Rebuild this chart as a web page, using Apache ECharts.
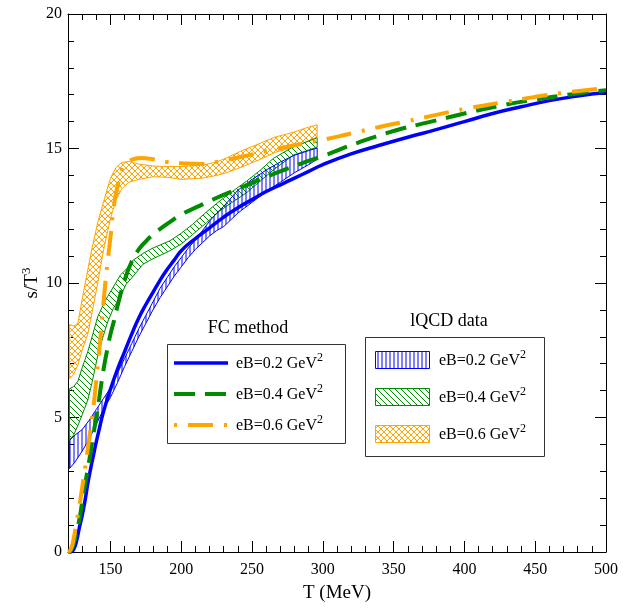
<!DOCTYPE html>
<html>
<head>
<meta charset="utf-8">
<script src="https://cdn.jsdelivr.net/npm/echarts@6/dist/echarts.min.js"></script>
<style>
  html, body { margin: 0; padding: 0; background: #fff; }
  #chart { width: 638px; height: 608px; }
</style>
</head>
<body>
<div id="chart"></div>
<script>
// Entropy density s/T^3 versus temperature: FC method curves and lQCD bands

const xMajorTicks = [150, 200, 250, 300, 350, 400, 450, 500];

// FC method curves: [T (MeV), s/T^3]
const fcEB02 = [
  [120, 0], [122, 0], [124, 0.1], [126, 0.4], [128, 0.9], [130, 1.35], [132, 1.9],
  [134, 2.55], [136, 3.1], [138, 3.6], [140, 4.1], [142, 4.55], [145, 5.2], [150, 6.05],
  [155, 6.8], [160, 7.45], [165, 8.1], [170, 8.7], [175, 9.2], [180, 9.65], [185, 10.1],
  [190, 10.5], [195, 10.85], [200, 11.2], [210, 11.65], [220, 12.05], [230, 12.45],
  [240, 12.8], [250, 13.1], [260, 13.4], [270, 13.65], [280, 13.9], [290, 14.15],
  [300, 14.4], [320, 14.8], [340, 15.12], [360, 15.42], [380, 15.7], [400, 16.0],
  [420, 16.3], [440, 16.55], [460, 16.78], [480, 16.95], [500, 17.08]
];
const fcEB04 = [
  [120, 0], [122, 0.05], [124, 0.3], [126, 0.75], [128, 1.2], [130, 1.85], [132, 2.5],
  [134, 3.1], [136, 3.72], [138, 4.4], [140, 5.0], [142, 5.7], [145, 6.75], [148, 7.6],
  [150, 8.1], [152.5, 8.6], [155, 9.15], [160, 10.1], [165, 10.8], [170, 11.25],
  [175, 11.55], [180, 11.8], [188, 12.12], [195, 12.38], [200, 12.55], [212, 12.85],
  [220, 13.05], [240, 13.5], [265, 14.05], [285, 14.45], [300, 14.72], [325, 15.22],
  [350, 15.65], [375, 15.98], [400, 16.3], [425, 16.59], [450, 16.82], [475, 17.01],
  [500, 17.17]
];
const fcEB06 = [
  [120, 0], [122, 0.1], [124, 0.5], [126, 1.1], [128, 1.7], [130, 2.4], [132, 3.1],
  [134, 3.85], [136, 4.6], [138, 5.4], [140, 6.4], [142, 7.45], [144, 8.6], [146, 9.8],
  [148, 10.8], [150, 11.7], [152.5, 12.9], [155, 13.6], [158, 14.2], [162, 14.48],
  [166, 14.6], [172, 14.65], [180, 14.6], [190, 14.5], [200, 14.45], [215, 14.42],
  [225, 14.5], [237, 14.63], [250, 14.78], [260, 14.9], [280, 15.12], [300, 15.32],
  [320, 15.56], [340, 15.8], [360, 16.02], [380, 16.25], [400, 16.47], [425, 16.7],
  [450, 16.92], [475, 17.1], [500, 17.25]
];

// lQCD bands: [T (MeV), lower, upper]
const lqcdEB02 = [
  [121, 3.1, 4.15], [125, 3.35, 4.35], [130, 3.75, 4.55], [135, 4.2, 4.9],
  [140, 4.75, 5.3], [145, 5.3, 5.7], [150, 5.75, 6.1], [155, 6.3, 6.65],
  [160, 6.9, 7.2], [165, 7.45, 7.75], [170, 8.0, 8.3], [175, 8.5, 8.8],
  [180, 9.0, 9.3], [185, 9.45, 9.8], [190, 9.85, 10.2], [195, 10.25, 10.6],
  [200, 10.6, 10.95], [205, 10.95, 11.3], [210, 11.25, 11.6], [215, 11.5, 11.95],
  [220, 11.75, 12.3], [225, 11.95, 12.6], [230, 12.1, 12.85], [240, 12.6, 13.45],
  [250, 13.0, 13.85], [260, 13.4, 14.2], [270, 13.75, 14.5], [280, 14.1, 14.75],
  [290, 14.4, 14.92], [296, 14.6, 15.02]
];
const lqcdEB04 = [
  [121, 4.17, 6.07], [124, 4.35, 6.15], [127, 4.7, 6.35], [130, 5.1, 6.85],
  [134, 5.65, 7.45], [137, 6.3, 8.0], [141, 7.3, 8.75], [145, 8.05, 9.2],
  [148, 8.55, 9.5], [152, 9.05, 9.85], [157, 9.5, 10.3], [161, 9.95, 10.5],
  [166, 10.25, 10.85], [173, 10.7, 11.1], [180, 10.9, 11.3], [192, 11.2, 11.57],
  [200, 11.45, 11.85], [208, 11.8, 12.18], [218, 12.25, 12.65], [227, 12.67, 13.04],
  [236, 13.0, 13.4], [246, 13.35, 13.78], [256, 13.8, 14.2], [265, 14.2, 14.63],
  [279, 14.75, 15.06], [296, 15.05, 15.4]
];
const lqcdEB06 = [
  [121, 6.43, 8.46], [124, 6.6, 8.4], [127, 6.95, 8.5], [130, 7.5, 9.4],
  [134, 8.1, 10.5], [137, 8.9, 11.3], [141, 10.0, 12.25], [145, 11.2, 13.0],
  [150, 12.4, 13.9], [154, 13.1, 14.3], [158, 13.5, 14.48], [163, 13.75, 14.52],
  [170, 13.85, 14.42], [180, 13.95, 14.35], [190, 13.93, 14.33], [200, 13.85, 14.33],
  [215, 13.9, 14.38], [225, 14.0, 14.5], [232, 14.1, 14.65], [242, 14.3, 14.9],
  [256, 14.6, 15.2], [266, 14.85, 15.42], [279, 15.05, 15.6], [289, 15.25, 15.78],
  [296, 15.43, 15.88]
];

const legendLabels = ['eB=0.2 GeV', 'eB=0.4 GeV', 'eB=0.6 GeV'];

const BLUE = '#0000ff';
const GREEN = '#008b00';
const ORANGE = '#ffa500';
const SERIF = '"Liberation Serif", "Times New Roman", "DejaVu Serif", serif';

// Hatch fill tiles
function hatch(color, size, kind) {
  const c = document.createElement('canvas');
  c.width = size; c.height = size;
  const g = c.getContext('2d');
  g.strokeStyle = color;
  g.lineWidth = 1;
  g.beginPath();
  if (kind === 'vertical') {
    g.moveTo(size / 2, 0); g.lineTo(size / 2, size);
  }
  if (kind === 'back' || kind === 'cross') {
    for (let k = -1; k <= 1; k++) { g.moveTo(k * size, 0); g.lineTo(k * size + size, size); }
  }
  if (kind === 'fwd' || kind === 'cross') {
    for (let k = -1; k <= 1; k++) { g.moveTo(k * size, size); g.lineTo(k * size + size, 0); }
  }
  g.stroke();
  return { image: c, repeat: 'repeat' };
}
const patBlue = hatch(BLUE, 4, 'vertical');
const patGreen = hatch(GREEN, 6, 'back');
const patOrange = hatch(ORANGE, 6, 'cross');

function bandSeries(name, band, color, pattern) {
  return {
    type: 'custom',
    name: name,
    xAxisIndex: 0,
    yAxisIndex: 0,
    clip: true,
    silent: true,
    z: 1,
    data: [[band[0][0], band[0][1]]],
    renderItem: function (params, api) {
      const upper = band.map(p => api.coord([p[0], p[2]]));
      const lower = band.slice().reverse().map(p => api.coord([p[0], p[1]]));
      return {
        type: 'polygon',
        shape: { points: upper.concat(lower) },
        style: { fill: pattern, stroke: color, lineWidth: 1 }
      };
    }
  };
}

function lineSeries(name, data, color, width, dash) {
  return {
    type: 'line',
    name: name,
    xAxisIndex: 0,
    yAxisIndex: 0,
    data: data,
    showSymbol: false,
    smooth: 0.5,
    clip: true,
    z: 3,
    lineStyle: { color: color, width: width, type: dash || 'solid', cap: 'butt' }
  };
}

const axisCommon = {
  type: 'value',
  min: 120,
  max: 500,
  splitLine: { show: false }
};
const tickStyle = { color: '#000', width: 1 };

const supRich = {
  sup: { fontSize: 13, fontFamily: SERIF, color: '#000', verticalAlign: 'top', lineHeight: 12 }
};

const chart = echarts.init(document.getElementById('chart'), null, { renderer: 'canvas' });

function legendText(x, y, label) {
  return {
    type: 'text',
    x: x,
    y: y,
    z: 11,
    style: {
      text: label + '{sup|2}',
      fontSize: 16,
      fontFamily: SERIF,
      fill: '#000',
      lineHeight: 24,
      verticalAlign: 'middle',
      rich: { sup: { fontSize: 12, fontFamily: SERIF, fill: '#000', verticalAlign: 'top', lineHeight: 10 } }
    }
  };
}

chart.setOption({
  animation: false,
  backgroundColor: '#fff',
  grid: { left: 68, right: 32, top: 14, bottom: 50 },
  xAxis: [
    Object.assign({}, axisCommon, {
      position: 'bottom',
      interval: 10,
      axisLine: { show: true, lineStyle: { color: '#000', width: 1 } },
      axisTick: { show: true, inside: true, length: 6, lineStyle: tickStyle },
      axisLabel: { show: false }
    }),
    Object.assign({}, axisCommon, {
      position: 'bottom',
      axisLine: { show: false },
      axisTick: { show: true, inside: true, length: 11, customValues: xMajorTicks, lineStyle: tickStyle },
      axisLabel: { show: true, customValues: xMajorTicks, fontSize: 16, fontFamily: SERIF, color: '#000', margin: 10 },
      name: 'T (MeV)',
      nameLocation: 'middle',
      nameGap: 32,
      nameMoveOverlap: false,
      nameTextStyle: { fontSize: 19, fontFamily: SERIF, color: '#000' }
    }),
    Object.assign({}, axisCommon, {
      position: 'top',
      interval: 10,
      axisLine: { show: true, lineStyle: { color: '#000', width: 1 } },
      axisTick: { show: true, inside: true, length: 6, lineStyle: tickStyle },
      axisLabel: { show: false }
    }),
    Object.assign({}, axisCommon, {
      position: 'top',
      axisLine: { show: false },
      axisTick: { show: true, inside: true, length: 11, customValues: xMajorTicks, lineStyle: tickStyle },
      axisLabel: { show: false }
    })
  ],
  yAxis: [
    {
      type: 'value', min: 0, max: 20, interval: 5, position: 'left',
      splitLine: { show: false },
      axisLine: { show: true, lineStyle: { color: '#000', width: 1 } },
      axisTick: { show: true, inside: true, length: 11, lineStyle: tickStyle },
      minorTick: { show: true, splitNumber: 5, length: 6, lineStyle: tickStyle },
      axisLabel: { fontSize: 16, fontFamily: SERIF, color: '#000', margin: 6 },
      name: 's/T{sup|3}',
      nameLocation: 'middle',
      nameGap: 24,
      nameMoveOverlap: false,
      nameTextStyle: { fontSize: 19, fontFamily: SERIF, color: '#000', lineHeight: 24, rich: supRich }
    },
    {
      type: 'value', min: 0, max: 20, interval: 5, position: 'right',
      splitLine: { show: false },
      axisLine: { show: true, lineStyle: { color: '#000', width: 1 } },
      axisTick: { show: true, inside: true, length: 11, lineStyle: tickStyle },
      minorTick: { show: true, splitNumber: 5, length: 6, lineStyle: tickStyle },
      axisLabel: { show: false }
    }
  ],
  series: [
    bandSeries('lQCD eB=0.6', lqcdEB06, ORANGE, patOrange),
    bandSeries('lQCD eB=0.4', lqcdEB04, GREEN, patGreen),
    bandSeries('lQCD eB=0.2', lqcdEB02, BLUE, patBlue),
    lineSeries('FC eB=0.2', fcEB02, BLUE, 3.5, 'solid'),
    lineSeries('FC eB=0.4', fcEB04, GREEN, 4, [21, 10]),
    lineSeries('FC eB=0.6', fcEB06, ORANGE, 4, [25, 11, 3, 11])
  ],
  graphic: [
    // FC method legend
    { type: 'text', x: 248, y: 328, style: { text: 'FC method', fontSize: 18, fontFamily: SERIF, fill: '#000', align: 'center', verticalAlign: 'middle' } },
    { type: 'rect', shape: { x: 167.5, y: 344.5, width: 178, height: 99 }, style: { fill: '#fff', stroke: '#333', lineWidth: 1 }, z: 10 },
    { type: 'line', shape: { x1: 174, y1: 363, x2: 228, y2: 363 }, style: { stroke: BLUE, lineWidth: 3.5 }, z: 11 },
    { type: 'line', shape: { x1: 174, y1: 394, x2: 228, y2: 394 }, style: { stroke: GREEN, lineWidth: 4, lineDash: [21, 10] }, z: 11 },
    { type: 'line', shape: { x1: 174, y1: 425, x2: 228, y2: 425 }, style: { stroke: ORANGE, lineWidth: 4, lineDash: [3, 11, 25, 11] }, z: 11 },
    legendText(236, 364, legendLabels[0]),
    legendText(236, 395, legendLabels[1]),
    legendText(236, 426, legendLabels[2]),
    // lQCD data legend
    { type: 'text', x: 449, y: 321, style: { text: 'lQCD data', fontSize: 18, fontFamily: SERIF, fill: '#000', align: 'center', verticalAlign: 'middle' } },
    { type: 'rect', shape: { x: 365.5, y: 337.5, width: 179, height: 119 }, style: { fill: '#fff', stroke: '#333', lineWidth: 1 }, z: 10 },
    { type: 'rect', shape: { x: 375.5, y: 351.5, width: 54, height: 17 }, style: { fill: patBlue, stroke: BLUE, lineWidth: 1 }, z: 11 },
    { type: 'rect', shape: { x: 375.5, y: 388.5, width: 54, height: 17 }, style: { fill: patGreen, stroke: GREEN, lineWidth: 1 }, z: 11 },
    { type: 'rect', shape: { x: 375.5, y: 425.5, width: 54, height: 17 }, style: { fill: patOrange, stroke: ORANGE, lineWidth: 1 }, z: 11 },
    legendText(439, 361, legendLabels[0]),
    legendText(439, 398, legendLabels[1]),
    legendText(439, 435, legendLabels[2])
  ]
});
</script>
</body>
</html>
